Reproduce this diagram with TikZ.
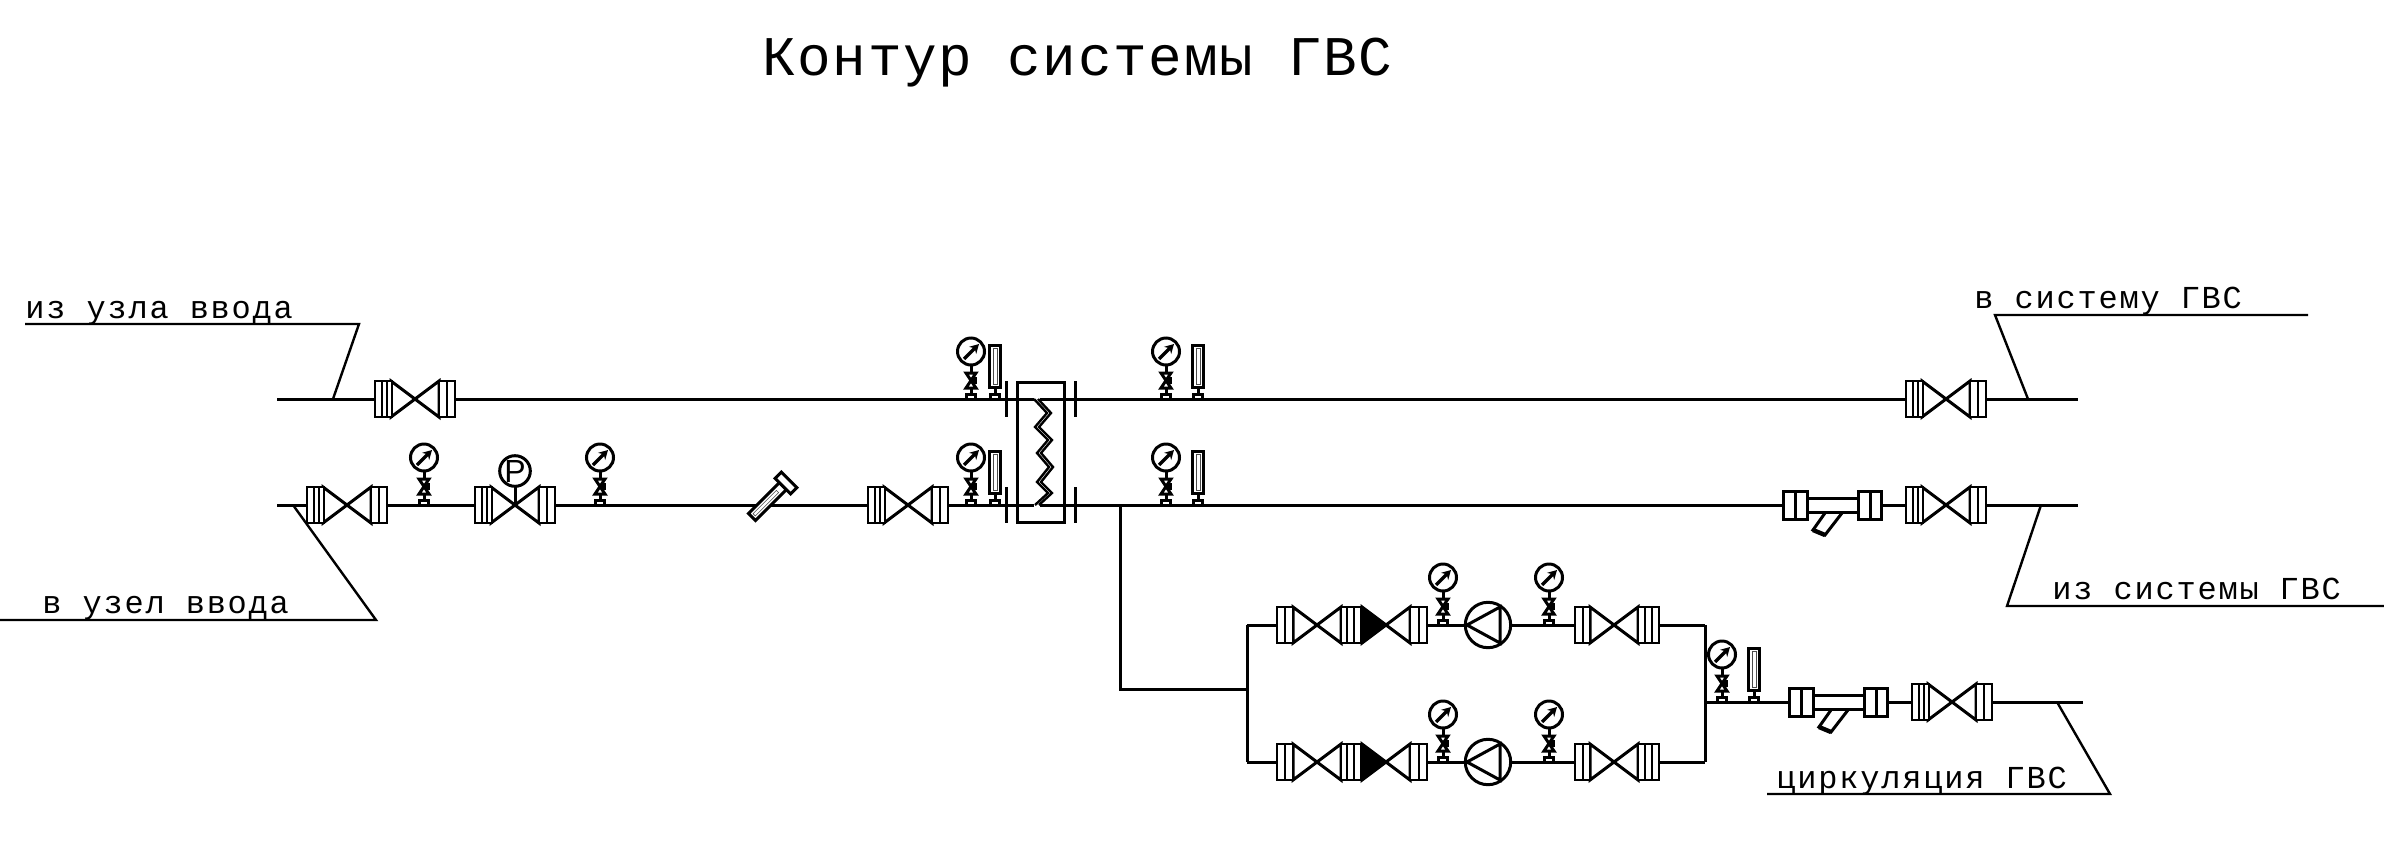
\documentclass[tikz,border=0pt]{standalone}
\usepackage{fontspec}
\setmainfont{Liberation Mono}
\setsansfont{Liberation Sans}
\newfontfamily\titlefont{Liberation Mono}[LetterSpace=3]
\newfontfamily\labelfont{Liberation Mono}[LetterSpace=5.6]
\usetikzlibrary{arrows.meta}

\tikzset{
  pipe/.style={line width=1.5pt},
  leader/.style={line width=1.2pt},
  cadlabel/.style={inner sep=0pt, anchor=base west, font=\labelfont\fontsize{16}{18}\selectfont},
  pics/bowtie/.default=white,
  pics/bowtie/.style={code={
    \draw[pipe,fill=#1] (0,0) -- (-24,-18) -- (-24,18) -- cycle;
    \draw[pipe,fill=white] (0,0) -- (24,-18) -- (24,18) -- cycle;
  }},
  pics/flange/.style={code={
    \foreach \a/\b in {#1} \draw[leader,fill=white] (\a,-18) rectangle (\b,18);
  }},
  pics/valve/.style={code={
    \pic {bowtie};
    \pic {flange={-40/-33,-33/-28,-28/-23}};
    \pic {flange={24/32,32/40}};
  }},
  pics/gauge/.style={code={
    \draw[pipe,fill=white] (-4.5,-5) rectangle (4.5,0);
    \draw[pipe] (0,-5) -- (0,-34);
    \draw[pipe,fill=white] (-5,-26) -- (5,-11) -- (-5,-11) -- (5,-26) -- cycle;
    \fill (2,-22) rectangle (5.5,-15);
    \draw[pipe,fill=white] (0,-47.5) circle (13.5);
    \draw[line width=1.7pt,-{Stealth[length=4.5pt,width=5pt]}] (-7,-40) -- (8,-55);
  }},
  pics/level/.style={code={
    \draw[pipe,fill=white] (-4.5,-5) rectangle (4.5,0);
    \draw[pipe] (0,-5) -- (0,-12);
    \draw[pipe,fill=white] (-5.5,-12) rectangle (5.5,-54);
    \draw[line width=.3pt,black!70] (-2,-15) rectangle (2,-51);
  }},
  pics/strainer/.style={code={
    \draw[pipe,fill=white] (-7,8) -- (-19,25) -- (-7,30) -- (10,8);
    \draw[line width=2.2pt] (-19,25) -- (-7,30);
    \draw[pipe,fill=white] (-26,-7) rectangle (26,7);
    \foreach \a/\b in {-49/-37,-37/-25,26/38,38/49}
      \draw[pipe,fill=white] (\a,-14) rectangle (\b,14);
  }},
  pics/pocket/.style={code={
    \draw[pipe,fill=white] (4.5,-5) rectangle (48,5);
    \draw[line width=.3pt,black!70] (12,-1.6) rectangle (45,1.6);
    \draw[pipe,fill=white] (-4.5,-11) rectangle (4.5,11);
  }},
  pics/pump/.style={code={
    \draw[pipe,fill=white] (0,0) circle (22.7);
    \draw[pipe] (-21,0) -- (12,-18) -- (12,18) -- cycle;
  }},
}

\begin{document}
\begin{tikzpicture}[x=0.5pt,y=-0.5pt]
  \useasboundingbox (0,0) rectangle (2384,852);

  \node[inner sep=0pt,anchor=base west,font=\titlefont\fontsize{28}{32}\selectfont] (title) at (762,75) {Контур системы ГВС};

  % pipe ends
  \coordinate (hotinl) at (277,399);
  \coordinate (hotinr) at (1034,399);
  \coordinate (hotoutl) at (1040,399);
  \coordinate (hotoutr) at (2078,399);
  \coordinate (backinl) at (277,505);
  \coordinate (backinr) at (1034,505);
  \coordinate (backoutl) at (1040,505);
  \coordinate (backoutr) at (2078,505);
  \coordinate (tee) at (1120,505);
  \coordinate (teedown) at (1120,689);
  \coordinate (bankin) at (1247,689);
  \coordinate (bankout) at (1705,702);
  \coordinate (circend) at (2083,702);

  \draw[pipe] (hotinl) -- (hotinr);
  \draw[pipe] (hotoutl) -- (hotoutr);
  \draw[pipe] (backinl) -- (backinr);
  \draw[pipe] (backoutl) -- (backoutr);
  \draw[pipe] (tee) -- (teedown) -- (bankin);
  \draw[pipe] (bankout) -- (circend);

  % heat exchanger
  \draw[pipe] (1017,382) rectangle (1064,522);
  \foreach \x/\y in {1006/399,1075/399,1006/505,1075/505}
    \draw[pipe] (\x,\y-18) -- (\x,\y+18);
  \foreach \dx in {0,4}
    \draw[leader,xshift=\dx*0.5pt] (1034,399) -- (1047,413) -- (1035,427) -- (1048,440) -- (1037,453)
      -- (1049,467) -- (1037,482) -- (1048,493) -- (1035,505);

  % fittings on the two main lines
  \foreach \x/\y in {415/399,1946/399,347/505,515/505,908/505,1946/505,1952/702}
    \pic at (\x,\y) {valve};
  \foreach \x/\y in {971/399,1166/399,424/505,600/505,971/505,1166/505,1722/702}
    \pic at (\x,\y) {gauge};
  \foreach \x/\y in {995/399,1198/399,995/505,1198/505,1754/702}
    \pic at (\x,\y) {level};
  \pic at (1832,505) {strainer};
  \pic at (1838,702) {strainer};
  \pic[rotate=225] at (786,483) {pocket};

  % regulator
  \draw[pipe] (515,505) -- (515,484);
  \node[circle,draw,pipe,fill=white,minimum size=13.5pt,inner sep=0pt,font=\sffamily\fontsize{16}{16}\selectfont] (reg) at (515,471) {P};

  % pump bank
  \foreach \row in {625,762} {
    \coordinate (bankl\row) at (1247,\row);
    \coordinate (bankr\row) at (1705,\row);
    \draw[pipe] (bankl\row) -- (bankr\row);
    \pic at (1317,\row) {bowtie};
    \pic at (1317,\row) {flange={-40/-32,-32/-24,24/30,30/37,37/44}};
    \pic at (1386,\row) {bowtie=black};
    \pic at (1386,\row) {flange={24/33,33/41}};
    \pic at (1614,\row) {bowtie};
    \pic at (1614,\row) {flange={-39/-31,-31/-24,24/31,31/38,38/45}};
    \pic at (1443,\row) {gauge};
    \pic at (1549,\row) {gauge};
    \pic at (1488,\row) {pump};
  }
  \draw[pipe] (bankl625) -- (bankl762);
  \draw[pipe] (bankr625) -- (bankr762);

  % labels
  \coordinate (a1) at (25,324);
  \coordinate (a2) at (359,324);
  \coordinate (a3) at (333,399);
  \draw[leader] (a1) -- (a2) -- (a3);
  \node[cadlabel] (fromin) at (25,318) {из узла ввода};

  \coordinate (b1) at (0,620);
  \coordinate (b2) at (376,620);
  \coordinate (b3) at (293,505);
  \draw[leader] (b1) -- (b2) -- (b3);
  \node[cadlabel] (toin) at (42,613) {в узел ввода};

  \coordinate (c1) at (2308,315);
  \coordinate (c2) at (1995,315);
  \coordinate (c3) at (2028,399);
  \draw[leader] (c1) -- (c2) -- (c3);
  \node[cadlabel] (tosys) at (1974,308) {в систему ГВС};

  \coordinate (d1) at (2384,606);
  \coordinate (d2) at (2007,606);
  \coordinate (d3) at (2041,505);
  \draw[leader] (d1) -- (d2) -- (d3);
  \node[cadlabel] (fromsys) at (2052,599) {из системы ГВС};

  \coordinate (e1) at (1767,794);
  \coordinate (e2) at (2110,794);
  \coordinate (e3) at (2057,702);
  \draw[leader] (e1) -- (e2) -- (e3);
  \node[cadlabel] (circ) at (1776,788) {циркуляция ГВС};
\end{tikzpicture}
\end{document}
